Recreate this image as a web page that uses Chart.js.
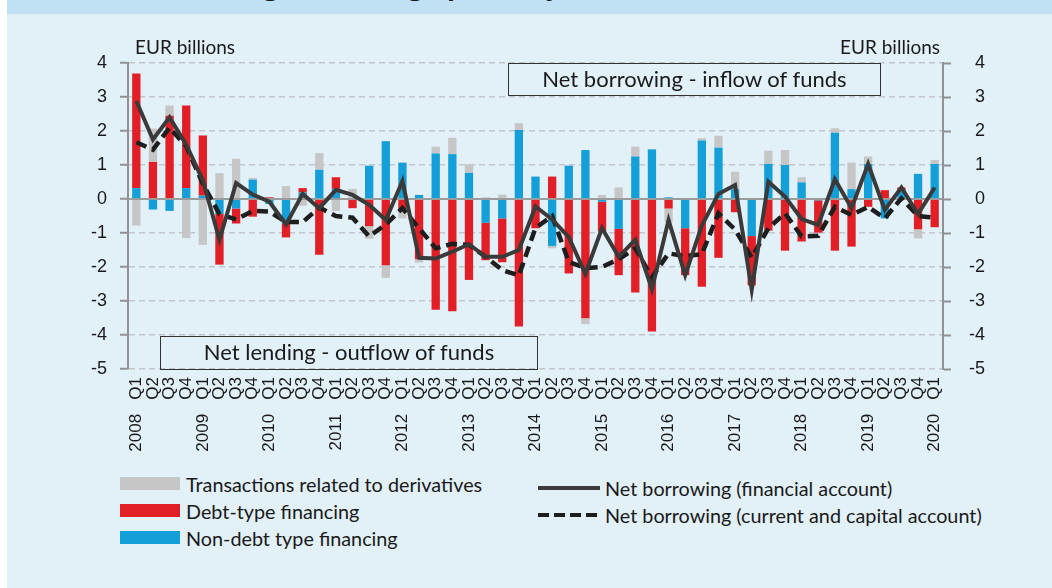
<!DOCTYPE html>
<html>
<head>
<meta charset="utf-8">
<script src="https://cdn.jsdelivr.net/npm/chart.js@4.4.1/dist/chart.umd.min.js"></script>
<style>
  html, body { margin: 0; padding: 0; background: #fff; }
  #panel { position: absolute; left: 7px; top: 0; width: 1045px; height: 588px; background: #e2f0f8; }
  #head { position: absolute; left: 7px; top: 0; width: 1045px; height: 14px; background: #bfe1f3; overflow: hidden; }
  #head span { position: absolute; left: 120px; top: -33px; font: bold 26px 'Open Sans', sans-serif; color: #1a1a1a; white-space: nowrap; }
  #chart { position: absolute; left: 0; top: 0; }
  .unit { position: absolute; top: 35px; font: 19px Lato, sans-serif; color: #1a1a1a; }
  .note { position: absolute; box-sizing: border-box; border: 1.5px solid #333; font: 22px Lato, sans-serif; color: #1a1a1a; text-align: center; line-height: 30px; }
  .lg { position: absolute; font: 19.8px Lato, sans-serif; color: #1a1a1a; white-space: nowrap; line-height: 22px; }
  .lg i { position: absolute; top: 4px; width: 60px; height: 13px; }
  .lg b { position: absolute; top: 9px; width: 62px; height: 4px; }
</style>
</head>
<body>
<div id="panel"></div>
<div id="head"><span>Net lending/borrowing (quarterly flows, EUR billions)</span></div>
<canvas id="chart" width="1052" height="465"></canvas>
<div class="unit" style="left:135px">EUR billions</div>
<div class="unit" style="left:840px">EUR billions</div>
<div class="note" style="left:508px;top:63px;width:373px;height:33px">Net borrowing - inflow of funds</div>
<div class="note" style="left:160px;top:336px;width:378px;height:34px">Net lending - outflow of funds</div>

<div class="lg" style="left:186px;top:473px"><i style="left:-66px;background:#c6c6c6"></i>Transactions related to derivatives</div>
<div class="lg" style="left:186px;top:500px"><i style="left:-66px;background:#e21f26"></i>Debt-type financing</div>
<div class="lg" style="left:186px;top:527px"><i style="left:-66px;background:#159fd9"></i>Non-debt type financing</div>
<div class="lg" style="left:605px;top:477px"><b style="left:-67px;background:#3a3a3a"></b>Net borrowing (financial account)</div>
<div class="lg" style="left:605px;top:504px"><b style="left:-67px;background:repeating-linear-gradient(90deg,#1e1e1e 0 11px,transparent 11px 16px)"></b>Net borrowing (current and capital account)</div>

<script>
// quarters 2008 Q1 - 2020 Q1
var quarters = [
  '2008   Q1', 'Q2', 'Q3', 'Q4',
  '2009   Q1', 'Q2', 'Q3', 'Q4',
  '2010   Q1', 'Q2', 'Q3', 'Q4',
  '2011   Q1', 'Q2', 'Q3', 'Q4',
  '2012   Q1', 'Q2', 'Q3', 'Q4',
  '2013   Q1', 'Q2', 'Q3', 'Q4',
  '2014   Q1', 'Q2', 'Q3', 'Q4',
  '2015   Q1', 'Q2', 'Q3', 'Q4',
  '2016   Q1', 'Q2', 'Q3', 'Q4',
  '2017   Q1', 'Q2', 'Q3', 'Q4',
  '2018   Q1', 'Q2', 'Q3', 'Q4',
  '2019   Q1', 'Q2', 'Q3', 'Q4',
  '2020   Q1'
];

var nonDebt = [
  0.32, -0.31, -0.35, 0.32, 0.10, -0.44, -0.28, 0.57,
  -0.15, -0.73, 0.19, 0.86, 0.30, 0, 0.98, 1.70,
  1.07, 0.12, 1.34, 1.32, 0.77, -0.70, -0.57, 2.03,
  0.66, -1.38, 0.98, 1.44, -0.08, -0.88, 1.25, 1.46,
  0.05, -0.86, 1.72, 1.51, 0.29, -1.09, 1.03, 1.00,
  0.49, -0.04, 1.95, 0.29, 1.03, -0.57, 0.26, 0.74,
  1.03
];

var debt = [
  3.37, 1.09, 2.45, 2.43, 1.77, -1.49, -0.44, -0.52,
  0.05, -0.40, 0.13, -1.64, 0.34, -0.27, -0.80, -1.95,
  -0.30, -1.77, -3.26, -3.30, -2.38, -1.10, -1.29, -3.75,
  -0.86, 0.66, -2.19, -3.51, -0.88, -1.36, -2.75, -3.90,
  -0.28, -1.38, -2.58, -1.73, -0.39, -1.45, -0.93, -1.52,
  -1.25, -0.95, -1.52, -1.40, -0.23, 0.26, 0.08, -0.89,
  -0.83
];

var derivatives = [
  -0.78, 0.98, 0.30, -1.15, -1.35, 0.76, 1.18, 0.05,
  0, 0.38, -0.20, 0.49, -0.35, 0.30, -0.37, -0.37,
  -0.27, -0.10, 0.20, 0.48, 0.25, 0.05, 0.13, 0.20,
  0, -0.07, 0, -0.17, 0.12, 0.34, 0.29, 0,
  -0.40, 0, 0.07, 0.35, 0.51, 0, 0.39, 0.44,
  0.15, 0, 0.13, 0.78, 0.22, 0, 0, -0.27,
  0.12
];

var netBorrowingFin = [
  2.88, 1.75, 2.40, 1.60, 0.55, -1.20, 0.47, 0.13,
  -0.08, -0.75, 0.15, -0.27, 0.27, 0.12, -0.17, -0.62,
  0.53, -1.73, -1.75, -1.55, -1.33, -1.70, -1.70, -1.50,
  -0.22, -0.60, -1.12, -2.20, -0.86, -1.70, -1.20, -2.65,
  -0.62, -2.24, -0.78, 0.15, 0.41, -2.67, 0.51, 0.07,
  -0.59, -0.76, 0.58, -0.27, 1.03, -0.32, 0.34, -0.44,
  0.34
];

var netBorrowingCur = [
  1.67, 1.45, 2.10, 1.55, 0.45, -0.45, -0.60, -0.35,
  -0.37, -0.68, -0.68, -0.25, -0.50, -0.55, -1.10, -0.75,
  -0.27, -0.86, -1.45, -1.32, -1.35, -1.70, -2.09, -2.25,
  -0.85, -0.50, -1.85, -2.03, -2.00, -1.77, -1.45, -2.30,
  -1.60, -1.68, -1.62, -0.42, -0.90, -1.72, -0.86, -0.42,
  -1.10, -1.08, -0.23, -0.47, -0.23, -0.57, 0.02, -0.50,
  -0.55
];

var yMin = -5, yMax = 4, yStep = 1;

var GREY = '#c6c6c6', RED = '#e21f26', BLUE = '#159fd9';
var AXIS = '#8f9294', GRID = '#c3c6c8';
var TICK_FONT = { family: "'Liberation Sans', Arial, sans-serif", size: 17 };
var Y_FONT = { family: "'Liberation Sans', Arial, sans-serif", size: 18 };

// solid zero line, drawn over the bars but under the two lines
var zeroLine = {
  id: 'zeroLine',
  afterDatasetDraw: function (chart, args) {
    if (args.index !== 0) return;
    var y = chart.scales.y.getPixelForValue(0);
    var a = chart.chartArea, ctx = chart.ctx;
    ctx.save();
    ctx.strokeStyle = '#9a9c9e';
    ctx.lineWidth = 2;
    ctx.beginPath();
    ctx.moveTo(a.left, y);
    ctx.lineTo(a.right, y);
    ctx.stroke();
    ctx.restore();
  }
};

new Chart(document.getElementById('chart'), {
  type: 'bar',
  data: {
    labels: quarters,
    datasets: [
      { label: 'Non-debt type financing', data: nonDebt, backgroundColor: BLUE, order: 1, yAxisID: 'y' },
      { label: 'Debt-type financing', data: debt, backgroundColor: RED, order: 1, yAxisID: 'y' },
      { label: 'Transactions related to derivatives', data: derivatives, backgroundColor: GREY, order: 1, yAxisID: 'y' },
      {
        type: 'line', label: 'Net borrowing (financial account)', data: netBorrowingFin,
        borderColor: '#3a3a3a', borderWidth: 4, pointRadius: 0, tension: 0,
        borderJoinStyle: 'miter', fill: false, order: 0, yAxisID: 'y2'
      },
      {
        type: 'line', label: 'Net borrowing (current and capital account)', data: netBorrowingCur,
        borderColor: '#1e1e1e', borderWidth: 4.5, borderDash: [11, 6], pointRadius: 0, tension: 0,
        fill: false, order: 0, yAxisID: 'y2'
      }
    ]
  },
  options: {
    responsive: false,
    animation: false,
    events: [],
    layout: { padding: { left: 60, right: 67, top: 63, bottom: 0 } },
    datasets: { bar: { barPercentage: 0.5, categoryPercentage: 1 } },
    plugins: { legend: { display: false }, tooltip: { enabled: false }, title: { display: false } },
    scales: {
      x: {
        stacked: true,
        grid: { display: false, drawTicks: false },
        border: { display: false },
        ticks: { autoSkip: false, maxRotation: 90, minRotation: 90, padding: 8, color: '#1a1a1a', font: TICK_FONT },
        afterFit: function (s) { s.height = 96; }
      },
      y: {
        position: 'left', stacked: true, min: yMin, max: yMax,
        ticks: { stepSize: yStep, padding: 13, color: '#1a1a1a', font: Y_FONT },
        grid: { color: GRID, lineWidth: 1.5, drawTicks: true, tickLength: 8, tickColor: AXIS, tickWidth: 2, tickBorderDash: [] },
        border: { display: true, color: AXIS, width: 2, dash: [6, 4] },
        afterFit: function (s) { s.width = 68; }
      },
      y2: {
        position: 'right', stacked: false, min: yMin, max: yMax,
        ticks: { stepSize: yStep, padding: 7, crossAlign: 'far', color: '#1a1a1a', font: Y_FONT },
        grid: { drawOnChartArea: false, drawTicks: true, tickLength: 8, tickColor: AXIS, tickWidth: 2 },
        border: { display: true, color: AXIS, width: 2 },
        afterFit: function (s) { s.width = 42; }
      }
    }
  },
  plugins: [zeroLine]
});
</script>
</body>
</html>
